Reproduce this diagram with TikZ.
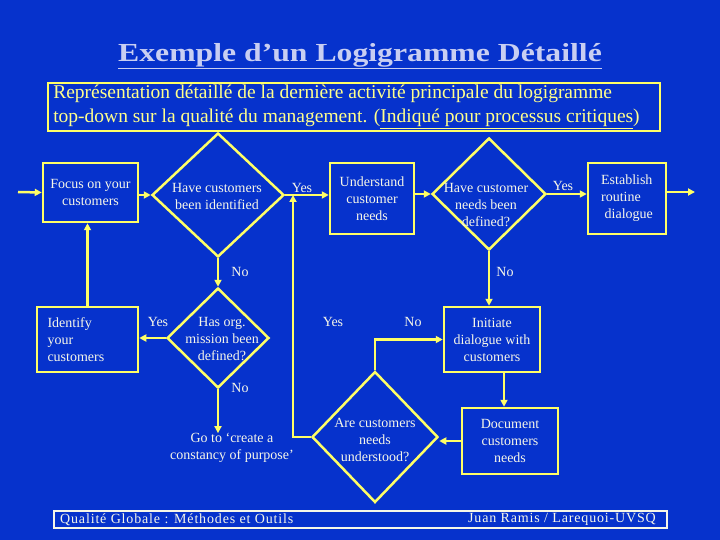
\documentclass[tikz,border=0pt]{standalone}
\usepackage{fontspec}
\setmainfont{Liberation Serif}
\usetikzlibrary{arrows.meta,positioning,shapes.geometric}
\definecolor{fondbleu}{RGB}{6,50,204}
\definecolor{jaune}{RGB}{255,255,102}
\definecolor{jaunetexte}{RGB}{255,255,140}
\definecolor{lavande}{RGB}{200,206,242}
\definecolor{clair}{RGB}{246,246,232}
\tikzset{block/.style={draw=jaune,line width=2.5pt,text=clair,align=center,inner sep=2pt,font=\fontsize{14}{17}\selectfont},
  test/.style={diamond,draw=jaune,line width=2.5pt,inner sep=0pt},
  lbl/.style={text=clair,align=center,inner sep=0pt,font=\fontsize{14}{17}\selectfont},
  edge/.style={-{Triangle[length=7pt,width=7pt]},line width=2.5pt,draw=jaune}}

\begin{document}
\begin{tikzpicture}[x=1pt,y=-1pt]
\fill[fondbleu](0,0)rectangle(720,540);
\useasboundingbox(0,0)rectangle(720,540);
% titre et cadre
\node[text=lavande,font=\fontsize{26}{30}\selectfont\bfseries\addfontfeature{FakeStretch=1.22}](titre)at(360,56){\underline{Exemple d’un Logigramme Détaillé}};
\node[draw=jaune,line width=2pt,text=jaunetexte,align=left,minimum width=612pt,minimum height=48pt,inner sep=2pt,font=\fontsize{19.5}{24}\selectfont](cadre)at(354,107){Représentation détaillé de la dernière activité principale du logigramme\\top-down sur la qualité du management. (\underline{Indiqué pour processus critiques})\hspace*{15pt}};
% etapes
\node[block,minimum width=95pt,minimum height=59pt](focus)at(90.5,192.5){Focus on your\\customers};
\node[test,minimum width=132pt,minimum height=124pt](d1)at(218,195){};
\node[lbl](t1)at(217,196){Have customers\\been identified};
\node[block,minimum width=84pt,minimum height=71pt](understand)at(372,198.5){Understand\\customer\\needs};
\node[test,minimum width=114pt,minimum height=112pt](d2)at(489,194){};
\node[lbl](t2)at(486,205){Have customer\\needs been\\defined?};
\node[block,align=left,minimum width=78pt,minimum height=71pt](establish)at(627,198.5){Establish\\routine\\\ dialogue};
\node[block,align=left,text width=80pt,minimum width=101pt,minimum height=65pt](identify)at(87.5,339.5){Identify\\your\\customers};
\node[test,minimum width=102pt,minimum height=100pt](d3)at(218,338){};
\node[lbl](t3)at(222,339){Has org.\\mission been\\defined?};
\node[block,minimum width=96pt,minimum height=65pt](initiate)at(492,339.5){Initiate\\dialogue with\\customers};
\node[lbl](goto)at(232,448){Go to ‘create a\\constancy of purpose’};
\node[test,minimum width=126pt,minimum height=131pt](d4)at(375,437){};
\node[lbl](t4)at(375,440){Are customers\\needs\\understood?};
\node[block,minimum width=96pt,minimum height=66pt](document)at(510,441){Document\\customers\\needs};
% oui / non
\node[lbl](y1)at(302,188){Yes};\node[lbl](n1)at(240,272){No};
\node[lbl](y2)at(563,186){Yes};\node[lbl](n2)at(505,272){No};
\node[lbl](y3)at(158,322){Yes};\node[lbl](n3)at(240,388){No};
\node[lbl](y4)at(333,322){Yes};\node[lbl](n4)at(413,322){No};
% pied de page
\node[draw=clair,line width=1.2pt,minimum width=613pt,minimum height=17pt,inner sep=0pt](pied)at(360.5,519.5){};
\node[lbl,anchor=west,font=\fontsize{14}{16}\selectfont\addfontfeature{LetterSpace=6}](source)at(60,519.5){Qualité Globale : Méthodes et Outils};
\node[lbl,anchor=east,font=\fontsize{14}{16}\selectfont\addfontfeature{LetterSpace=6}](auteur)at(656,519.5){Juan Ramis / Larequoi-UVSQ};
\coordinate(entree)at(18,192);\coordinate(sortie)at(695,192);\coordinate(jonction)at(293,195);
% liaisons
\draw[edge](entree)--(focus.west);\draw[edge](focus.east|-d1.west)--(d1.west);
\draw[edge](d1.east)--(understand.west|-d1.east);\draw[edge](understand.east|-d2.west)--(d2.west);
\draw[edge](d2.east)--(establish.west|-d2.east);\draw[edge](establish.east|-sortie)--(sortie);
\draw[edge](d1.south)--(d3.north);\draw[edge](d2.south)--(d2.south|-initiate.north);
\draw[edge](d3.west)--(identify.east|-d3.west);\draw[edge](identify.north)--(identify.north|-focus.south);
\draw[edge](d3.south)--(d3.south|-goto.north);
\draw[edge]([xshift=12pt]initiate.south)--([xshift=12pt]initiate.south|-document.north);
\draw[edge](document.west)--(d4.east|-document.west);
\draw[edge](d4.north)|-(initiate.west);
\draw[edge](d4.west)-|(jonction);
\end{tikzpicture}
\end{document}
